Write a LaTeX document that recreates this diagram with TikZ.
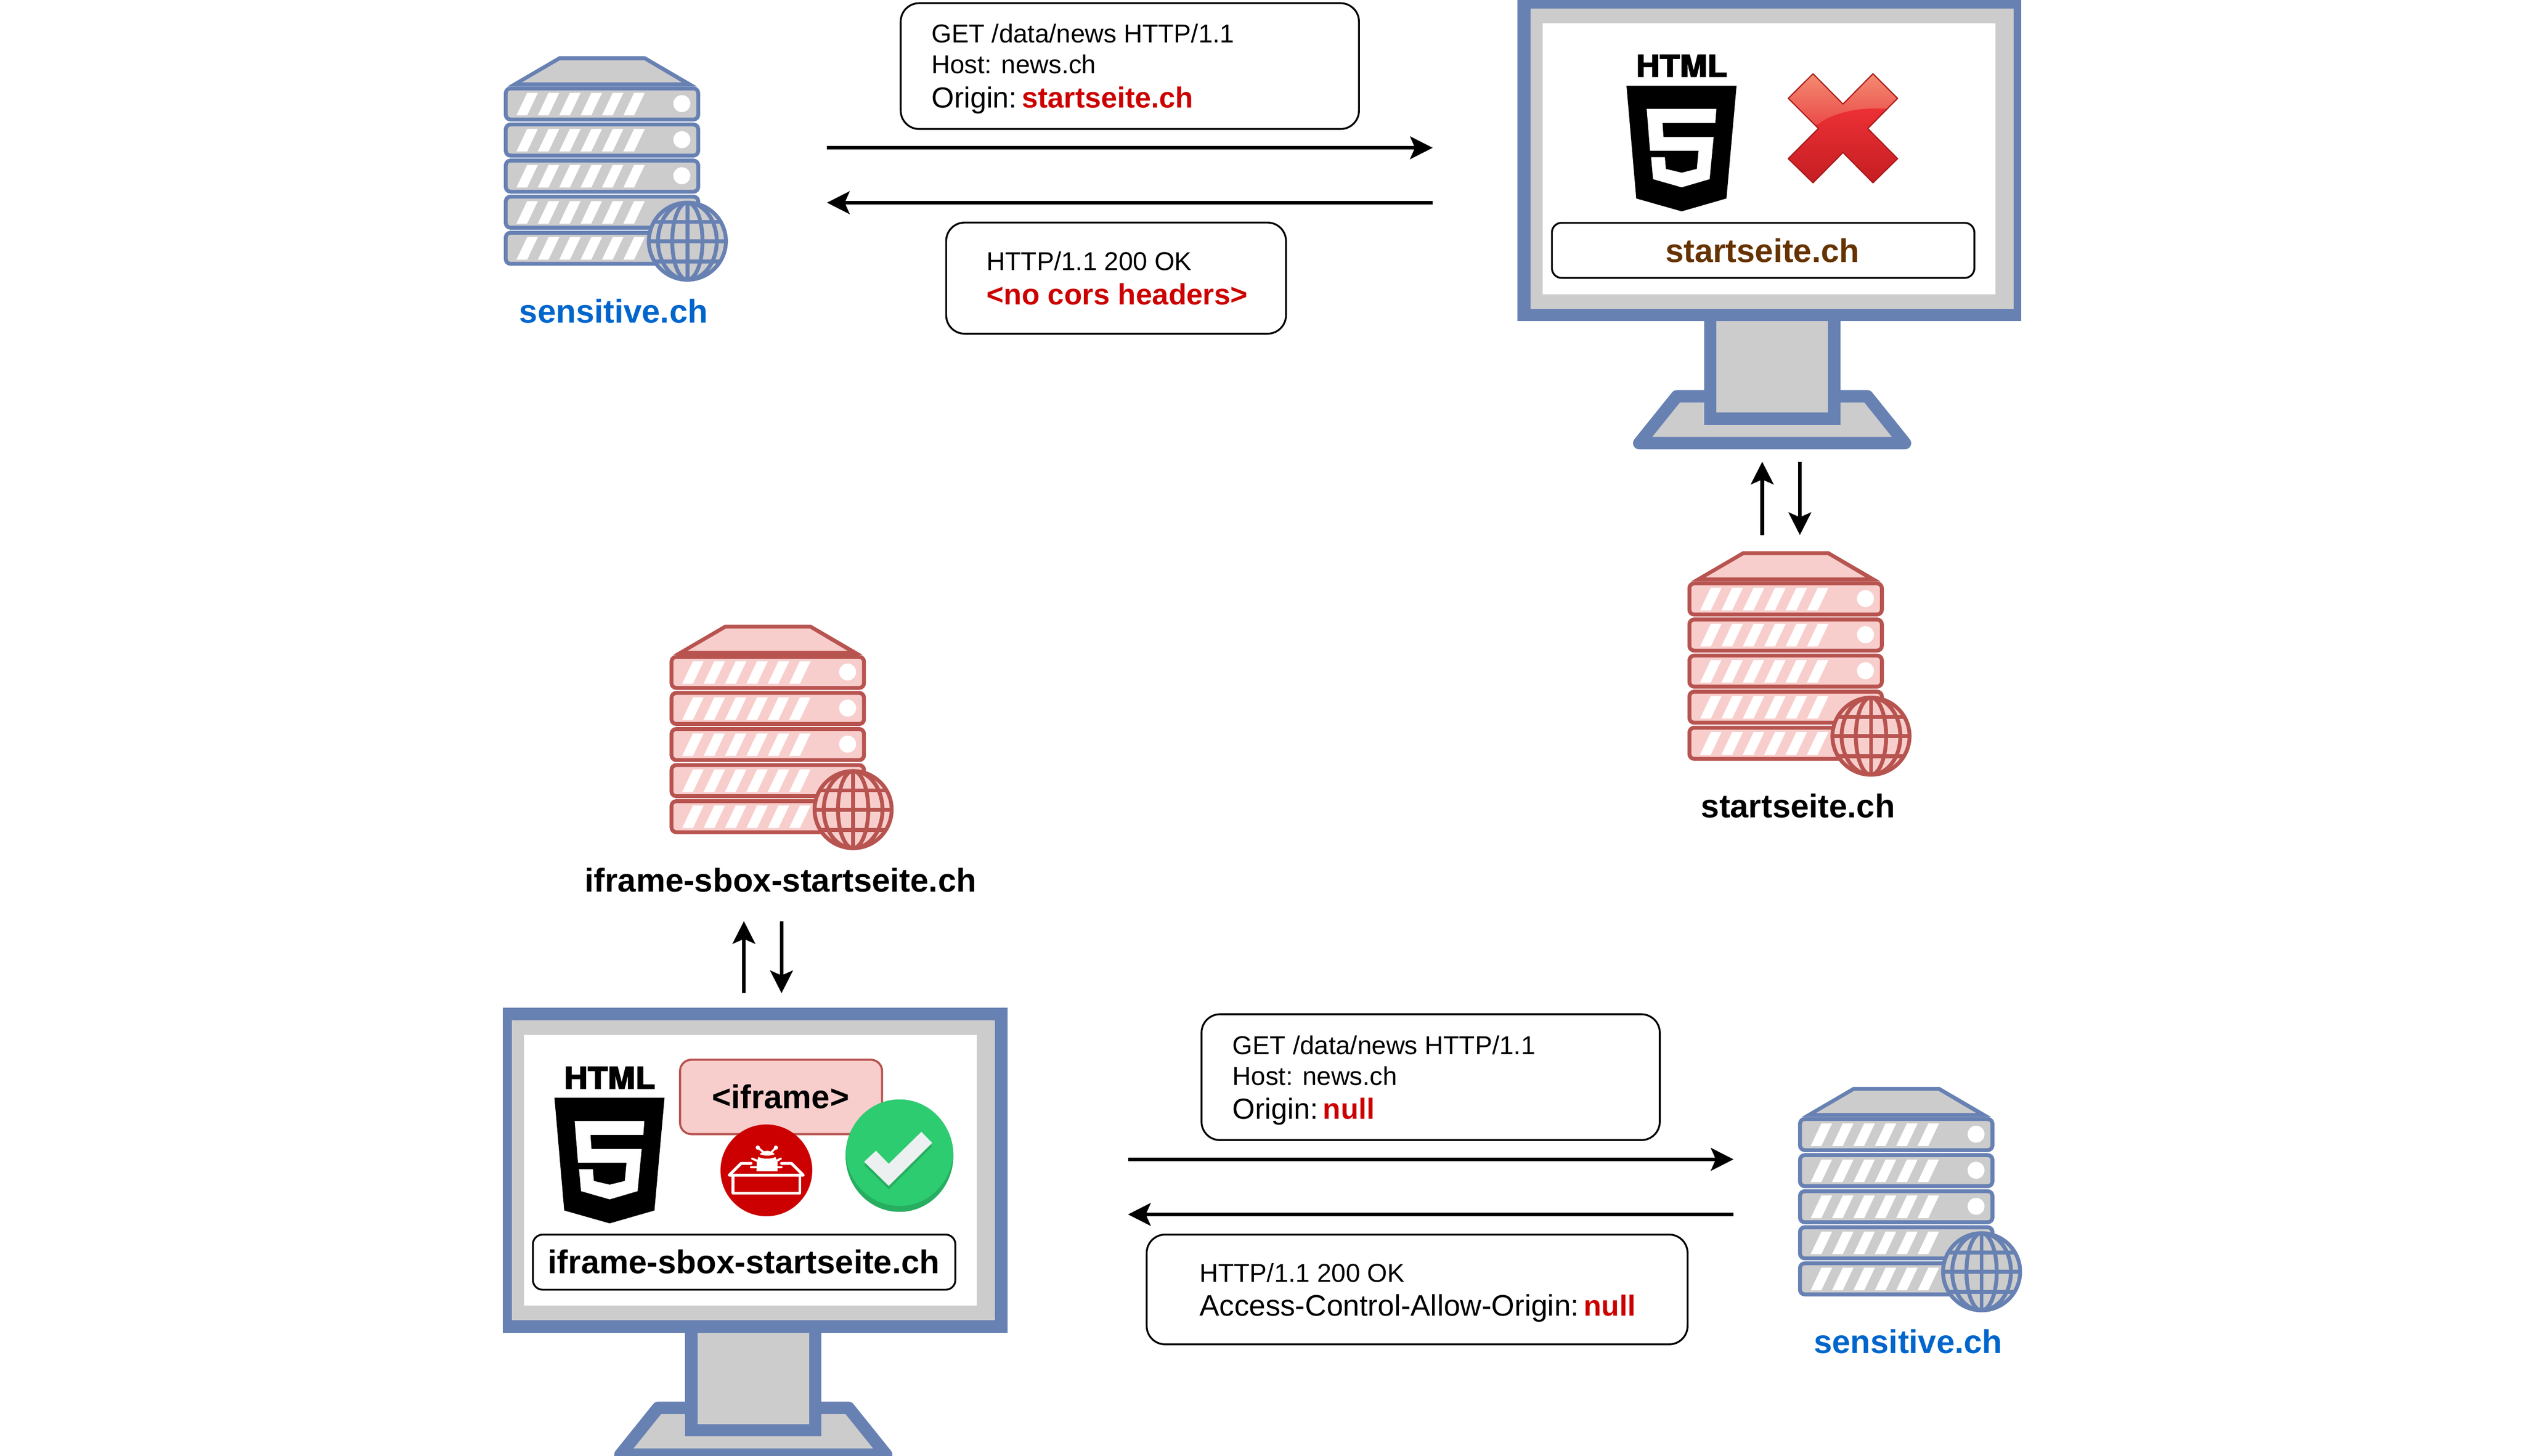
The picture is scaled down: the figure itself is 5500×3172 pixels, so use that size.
\documentclass[tikz,border=0pt]{standalone}
\usepackage{fontspec}
\setmainfont{Liberation Sans}
\newfontfamily\htmlfont[BoldFeatures={FakeBold=3}]{TeX Gyre Heros}
\usetikzlibrary{arrows.meta}
\definecolor{frameblue}{HTML}{6881B3}
\definecolor{panelgrey}{HTML}{CCCCCC}
\definecolor{srvred}{HTML}{B85450}
\definecolor{srvpink}{HTML}{F8CECC}
\definecolor{txtred}{HTML}{CC0000}
\definecolor{txtblue}{HTML}{0066CC}
\definecolor{txtbrown}{HTML}{663300}
\definecolor{okgreen}{HTML}{2ECC71}
\definecolor{okdark}{HTML}{27AE60}
\definecolor{okwhite}{HTML}{ECF0F1}
\definecolor{xa}{HTML}{F48C72}
\definecolor{xb}{HTML}{E94444}
\definecolor{xc}{HTML}{EC3035}
\definecolor{xd}{HTML}{E21C24}
\definecolor{xe}{HTML}{C41E22}
\definecolor{xs}{HTML}{A81818}
\tikzset{
  msgbox/.style={draw=black,line width=1.14pt,rounded corners=11.4pt,fill=white,inner sep=0pt,outer sep=0pt},
  addrbox/.style={draw=black,line width=1.14pt,rounded corners=6pt,fill=white,inner sep=0pt,outer sep=0pt},
  msgline/.style={anchor=base west,inner sep=0pt,outer sep=0pt,font=\fontsize{16}{19}\selectfont},
  msgbig/.style={anchor=base west,inner sep=0pt,outer sep=0pt,font=\fontsize{18}{21}\selectfont},
  hostlabel/.style={anchor=base,inner sep=0pt,outer sep=0pt,font=\fontsize{20.4}{24}\selectfont\bfseries},
  flow/.style={line width=2.28pt,-{Stealth[length=14pt,width=14pt,inset=3pt]}},
}
\newcommand{\drawserver}[4]{%
 \begin{scope}[shift={(#1,#2)}]
  \fill[#3] (120.6,0)--(308,0)--(421,65.9)--(7.7,65.9)--cycle;
  \fill[#4] (122.5,8.7)--(306,8.7)--(387.7,57)--(39.5,57)--cycle;
  \foreach \i in {0,...,4}{
   \pgfmathsetmacro{\t}{65.9+78.6*\i}
   \begin{scope}[shift={(0,\t)}]
    \draw[line width=2.42pt,draw=#3,fill=#4,rounded corners=3pt] (4.25,4.25) rectangle (423.7,72);
    \foreach \k in {0,...,5}{
     \fill[white] ({27.6+46.6*\k},62.9)--({50.9+46.6*\k},62.9)--({74.2+46.6*\k},13.9)--({50.9+46.6*\k},13.9)--cycle;
    }
    \ifnum\i<3 \fill[white] (388,37.3) circle[radius=18.5];\fi
   \end{scope}
  }
  \begin{scope}[shift={(400,403)}]
   \fill[#4] (0,0) circle[radius=84];
   \begin{scope}
    \clip (0,0) circle[radius=84];
    \draw[#3,line width=2.42pt] (-90,0)--(90,0) (-90,-42)--(90,-42) (-90,44)--(90,44) (0,-90)--(0,90);
    \draw[#3,line width=2.42pt] (0,0) ellipse[x radius=33,y radius=84];
    \draw[#3,line width=2.42pt] (0,0) ellipse[x radius=64,y radius=84];
   \end{scope}
   \draw[#3,line width=2.42pt] (0,0) circle[radius=84];
  \end{scope}
 \end{scope}}
\newcommand{\drawmonitor}[4]{%
 \begin{scope}[shift={(#1,#2)}]
  \draw[frameblue,fill=panelgrey,line width=7.7pt,line join=round] (3654,863.5)--(4069,863.5)--(4151,965.5)--(3572,965.5)--cycle;
  \fill[frameblue] (3713,690) rectangle (4010,926);
  \fill[panelgrey] (3740,690) rectangle (3983.5,899);
  \fill[frameblue] (#3,-8) rectangle (#4,699.6);
  \fill[panelgrey] (3335,19) rectangle (4388,672.8);
  \fill[white] (3362,51) rectangle (4348,641);
 \end{scope}}
\newcommand{\drawhtmlfive}[2]{%
 \begin{scope}[shift={(#1,#2)}]
  \node[inner sep=0pt,outer sep=0pt,anchor=base] at (3664.5,167) {\fontsize{18.5}{20}\htmlfont\bfseries\scalebox{1.1}[1]{HTML}};
  \begin{scope}[shift={(3300,0)},xscale=0.7334,yscale=0.6378]
   \fill[black] (333,293)--(660,293)--(630,678)--(497,722)--(362,678)--cycle;
   \fill[white] (393,372)--(600,372)--(597,420)--(440,420)--(443,468)--(592,468)--(580,612)--(497,640)--(412,612)--(406,537)--(447,537)--(450,577)--(497,590)--(542,577)--(547,515)--(403,515)--cycle;
  \end{scope}
 \end{scope}}
\begin{document}
\begin{tikzpicture}[x=0.01cm,y=-0.01cm]
\clip (0,0) rectangle (5500,3172);
\fill[white] (0,0) rectangle (5500,3172);

% servers
\drawserver{1097.8}{122.5}{frameblue}{panelgrey}
\drawserver{3677}{1201}{srvred}{srvpink}
\drawserver{1459}{1361}{srvred}{srvpink}
\drawserver{3918}{2368}{frameblue}{panelgrey}
\node[hostlabel,text=txtblue] (lblsens1) at (1337,703) {sensitive.ch};
\node[hostlabel,text=black] (lblstart) at (3918,1781.5) {startseite.ch};
\node[hostlabel,text=black] (lbliframe) at (1701,1943) {iframe-sbox-startseite.ch};
\node[hostlabel,text=txtblue] (lblsens2) at (4158,2948) {sensitive.ch};

% monitors
\drawmonitor{0}{0}{3307}{4404}
\drawmonitor{-2220}{2204}{3316}{4416}
\drawhtmlfive{0}{0}
\drawhtmlfive{-2336}{2205}

% red cross
\begin{scope}
 \clip (3950.7,160.7)--(4016,226.7)--(4081.3,160.7)--(4135,214.3)--(4070,280)--(4135,345.7)--(4081.3,398.3)--(4016,332.3)--(3950.7,398.3)--(3896.7,345.7)--(3962.3,280)--(3896.7,214.3)--cycle;
 \shade[top color=xa,bottom color=xb] (3890,160) rectangle (4140,285);
 \shade[top color=xc,middle color=xd,bottom color=xe] (3890,290)--(3963,270) .. controls (3985,252) and (4030,237) .. (4080,236.7)--(4140,236.7)--(4140,400)--(3890,400)--cycle;
\end{scope}
\draw[xs,line width=0.7pt,line join=round] (3950.7,160.7)--(4016,226.7)--(4081.3,160.7)--(4135,214.3)--(4070,280)--(4135,345.7)--(4081.3,398.3)--(4016,332.3)--(3950.7,398.3)--(3896.7,345.7)--(3962.3,280)--(3896.7,214.3)--cycle;

% address boxes
\node[addrbox,minimum width=9.2cm,minimum height=1.2cm] (addr1) at (3842,545.5) {};
\node[hostlabel,text=txtbrown] (addr1t) at (3840.5,571) {startseite.ch};
\node[addrbox,minimum width=9.2cm,minimum height=1.2cm] (addr2) at (1621.5,2750) {};
\node[hostlabel,text=black] (addr2t) at (1621,2775) {iframe-sbox-startseite.ch};

% iframe box and badges
\node[draw=srvred,fill=srvpink,line width=1.3pt,rounded corners=7pt,inner sep=0pt,outer sep=0pt,minimum width=4.4cm,minimum height=1.62cm] (iframebox) at (1702,2390) {};
\node[anchor=base,inner sep=0pt,outer sep=0pt,font=\fontsize{20.4}{26}\selectfont\bfseries] (iframetxt) at (1701,2415) {<iframe>};
\fill[txtred] (1670,2550) circle[radius=100];
\begin{scope}[shift={(1500,2420)},x=0.00333cm,y=-0.00333cm]
 \draw[white,line width=1.8pt,line cap=round,line join=round] (292,425)--(292,540)--(730,540)--(730,425);
 \draw[white,line width=1.8pt,line cap=round,line join=round] (410,345)--(345,345)--(268,422)--(752,422)--(675,345)--(610,345);
 \fill[white] (468,285) .. controls (490,255) and (540,255) .. (565,285) .. controls (535,297) and (495,297) .. (468,285)--cycle;
 \fill[white] (458,303) .. controls (490,318) and (540,318) .. (570,303)--(584,335)--(584,397)--(446,397)--(448,335)--cycle;
 \draw[white,line width=1.3pt,line cap=round] (490,270)--(455,242) (545,270)--(573,242) (450,328)--(418,314) (578,328)--(605,314) (450,370)--(410,370) (580,370)--(610,370);
 \fill[white] (455,242) circle[radius=14] (573,242) circle[radius=14];
\end{scope}
\fill[okdark] (1960,2518) ellipse[x radius=117.5,y radius=122.5];
\begin{scope}
 \clip (1960,2518) ellipse[x radius=117.5,y radius=122.5];
 \fill[okgreen] (1960,2505) ellipse[x radius=117.5,y radius=122.5];
\end{scope}
\begin{scope}[shift={(1080,2180)},xscale=0.7334,yscale=0.6329]
 \fill[okdark] (1095,567)--(1130,529)--(1168,574)--(1265,464)--(1297,502)--(1168,650)--cycle;
 \fill[okwhite] (1095,555)--(1130,517)--(1168,562)--(1265,452)--(1297,490)--(1168,638)--cycle;
\end{scope}

% messages, top
\node[msgbox,minimum width=9.98cm,minimum height=2.74cm] (req1) at (2462,144) {};
\node[msgline] (req1a) at (2030,93) {GET /data/news HTTP/1.1};
\node[msgline] (req1b) at (2030,160) {Host: news.ch};
\node[msgbig] (req1c) at (2030,235) {Origin:\hspace{3pt}\textcolor{txtred}{\bfseries startseite.ch}};
\node[msgbox,minimum width=7.4cm,minimum height=2.42cm] (res1) at (2432,606) {};
\node[msgline] (res1a) at (2150,589) {HTTP/1.1 200 OK};
\node[msgbig,text=txtred,font=\fontsize{18.2}{21}\selectfont] (res1b) at (2150,664) {\bfseries <no cors headers>};
\coordinate (a1l) at (1802,322);
\coordinate (a1r) at (3122,322);
\coordinate (a2l) at (1802,441.6);
\coordinate (a2r) at (3122,441.6);
\draw[flow] (a1l)--(a1r);
\draw[flow] (a2r)--(a2l);

% messages, bottom
\node[msgbox,minimum width=9.98cm,minimum height=2.74cm] (req2) at (3117.5,2347) {};
\node[msgline] (req2a) at (2686,2297) {GET /data/news HTTP/1.1};
\node[msgline] (req2b) at (2686,2364) {Host: news.ch};
\node[msgbig] (req2c) at (2686,2438.5) {Origin:\hspace{3pt}\textcolor{txtred}{\bfseries null}};
\node[msgbox,minimum width=11.78cm,minimum height=2.39cm] (res2) at (3088,2809.5) {};
\node[msgline] (res2a) at (2614,2793) {HTTP/1.1 200 OK};
\node[msgbig,font=\fontsize{18.4}{21}\selectfont] (res2b) at (2614,2867.5) {Access-Control-Allow-Origin:\hspace{3pt}\textcolor{txtred}{\fontsize{18}{21}\selectfont\bfseries null}};
\coordinate (b1l) at (2458,2526);
\coordinate (b1r) at (3777.5,2526);
\coordinate (b2l) at (2458,2646);
\coordinate (b2r) at (3777.5,2646);
\draw[flow] (b1l)--(b1r);
\draw[flow] (b2r)--(b2l);

% vertical pairs
\coordinate (c1b) at (3840,1165.7);
\coordinate (c1t) at (3840,1006);
\coordinate (c2t) at (3922,1006);
\coordinate (c2b) at (3922,1165.7);
\draw[flow] (c1b)--(c1t);
\draw[flow] (c2t)--(c2b);
\coordinate (d1b) at (1621,2164);
\coordinate (d1t) at (1621,2007);
\coordinate (d2t) at (1703,2007);
\coordinate (d2b) at (1703,2164);
\draw[flow] (d1b)--(d1t);
\draw[flow] (d2t)--(d2b);

\end{tikzpicture}
\end{document}
